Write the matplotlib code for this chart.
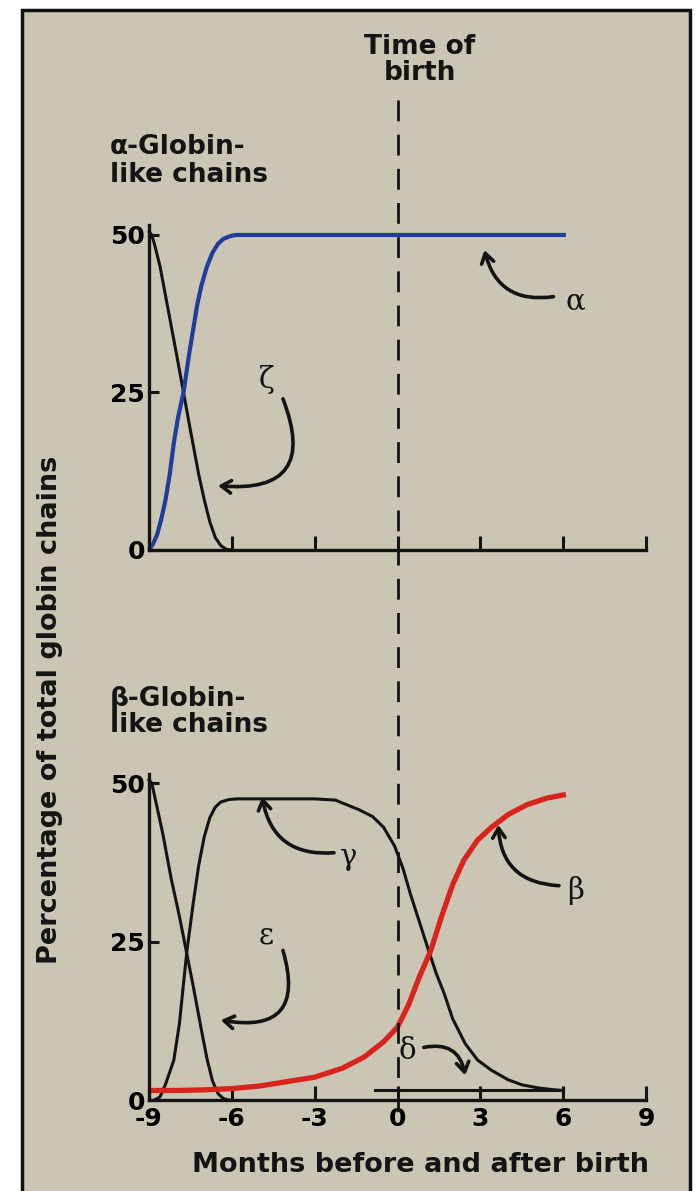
import matplotlib
matplotlib.use('Agg')
import matplotlib.pyplot as plt
from matplotlib.patches import Rectangle
from matplotlib.lines import Line2D
import matplotlib.transforms as mtransforms

# ---------------- data (months, % of total globin chains) ----------------
alpha_x = [-9, -8.85, -8.7, -8.55, -8.4, -8.25, -8.1, -7.95, -7.75, -7.55, -7.4, -7.25, -7.1, -6.9, -6.7, -6.5, -6.3, -6.0, -5.8, 0, 6.1]
alpha_y = [0, 1.0, 2.5, 5.0, 8.0, 12.0, 17.0, 21.0, 25.0, 31.0, 35.0, 39.0, 42.0, 45.0, 47.2, 48.6, 49.4, 49.9, 50, 50, 50]

zeta_x = [-9, -8.9, -8.8, -8.6, -8.3, -8.0, -7.75, -7.5, -7.2, -7.0, -6.8, -6.6, -6.4, -6.2, -6.0]
zeta_y = [50.5, 50, 48.5, 45, 38, 31, 25, 19, 12, 8, 4.5, 2.0, 0.7, 0.1, 0]

eps_x = [-9, -8.9, -8.8, -8.5, -8.2, -7.9, -7.65, -7.4, -7.1, -6.9, -6.7, -6.5, -6.3, -6.1]
eps_y = [50.5, 50, 48, 42, 35, 29, 23.5, 18, 11, 6.5, 3.0, 1.0, 0.2, 0]

gamma_x = [-8.8, -8.6, -8.4, -8.1, -7.9, -7.63, -7.4, -7.2, -7.0, -6.8, -6.6, -6.4, -6.1, -5.8, -4.5, -3.0, -2.25, -1.4, -0.9, -0.5, -0.1, 0.2, 0.46, 0.8, 1.14, 1.4, 1.69, 2.0, 2.45, 2.9, 3.4, 4.0, 4.5, 5.1, 5.7, 6.0]
gamma_y = [0, 0.5, 2.5, 6.3, 12, 23.4, 31, 37, 41.5, 44.5, 46.2, 47.0, 47.4, 47.5, 47.5, 47.5, 47.3, 45.8, 44.7, 43.0, 40.0, 36.5, 32.6, 28.0, 23.4, 20.0, 16.8, 12.8, 8.9, 6.3, 4.7, 3.2, 2.4, 1.9, 1.6, 1.5]

beta_x = [-9, -8, -7, -6, -5, -4, -3, -2, -1.2, -0.5, 0, 0.4, 0.8, 1.2, 1.6, 2.0, 2.4, 2.9, 3.4, 4.0, 4.7, 5.4, 6.1]
beta_y = [1.5, 1.5, 1.6, 1.8, 2.2, 2.9, 3.6, 5.0, 6.8, 9.2, 11.5, 15.0, 19.5, 23.5, 29.0, 34.0, 37.8, 41.0, 43.0, 45.0, 46.6, 47.6, 48.2]

delta_x = [-0.8, 6.0]
delta_y = [1.5, 1.5]

x_ticks = [-9, -6, -3, 0, 3, 6, 9]
x_ticklabels = ['-9', '-6', '-3', '0', '3', '6', '9']
y_ticks = [0, 25, 50]
y_ticklabels = ['0', '25', '50']

# ---------------- figure ----------------
W, H = 697, 1191
fig = plt.figure(figsize=(W / 100, H / 100), dpi=100)
fig.patch.set_facecolor('white')

bg = Rectangle((22 / W, -0.02), (690 - 22) / W, 1 - 10 / H + 0.02,
               transform=fig.transFigure, facecolor='#cbc5b3',
               edgecolor='#111111', lw=2.5, zorder=-5)
fig.add_artist(bg)

BLACK = '#141414'
BLUE = '#1f3d9c'
RED = '#d9231d'
SANS = 'DejaVu Sans'
SERIF = 'DejaVu Serif'

x_left = 149 / W
x_w = (646 - 149) / W


def make_ax(bottom_px, top_px):
    b = 1 - bottom_px / H
    h = (bottom_px - top_px) / H
    ax = fig.add_axes([x_left, b, x_w, h])
    ax.set_facecolor('none')
    ax.set_xlim(-9, 9)
    ax.set_ylim(0, 51.5)
    for s in ('top', 'right'):
        ax.spines[s].set_visible(False)
    for s in ('left', 'bottom'):
        ax.spines[s].set_linewidth(2.4)
        ax.spines[s].set_color(BLACK)
    ax.set_xticks(x_ticks)
    ax.set_yticks(y_ticks)
    ax.set_yticklabels(y_ticklabels, fontsize=18, fontweight='bold', family=SANS)
    ax.tick_params(axis='x', direction='in', length=10, width=2.2, color=BLACK)
    ax.tick_params(axis='y', direction='in', length=7, width=2.2, color=BLACK, pad=3)
    return ax


# top panel: 0 at py 550, 51.5 at py ~225
ax1 = make_ax(550, 225.5)
ax1.set_xticklabels([])
ax1.plot(zeta_x, zeta_y, color=BLACK, lw=2.2, clip_on=False, solid_capstyle='round')
ax1.plot(alpha_x, alpha_y, color=BLUE, lw=3.0, clip_on=False, solid_capstyle='butt')

# bottom panel: 0 at py 1100, 51.5 at py ~773.5
ax2 = make_ax(1100, 773.5)
ax2.set_xticklabels(x_ticklabels, fontsize=18, fontweight='bold', family=SANS)
ax2.tick_params(axis='x', pad=5)
ax2.plot(eps_x, eps_y, color=BLACK, lw=2.2, clip_on=False)
ax2.plot(gamma_x, gamma_y, color=BLACK, lw=2.2, clip_on=False)
ax2.plot(delta_x, delta_y, color=BLACK, lw=2.2, clip_on=False)
ax2.plot(beta_x, beta_y, color=RED, lw=3.8, clip_on=False, solid_capstyle='butt')

# ---------------- annotations ----------------
arrow_kw = dict(arrowstyle='->,head_length=0.7,head_width=0.45', color=BLACK, lw=2.6,
                shrinkA=0, shrinkB=0)


def label_arrow(ax, letter, txy, start, tip, rad):
    ax.text(txy[0], txy[1], letter, fontsize=21, family=SERIF, color=BLACK,
            ha='center', va='center')
    ax.annotate('', xy=tip, xytext=start,
                arrowprops=dict(connectionstyle='arc3,rad=%s' % rad, **arrow_kw))


label_arrow(ax1, 'α', (6.45, 39.5), (5.65, 40.2), (3.15, 47.6), -0.45)
label_arrow(ax1, 'ζ', (-4.75, 27.0), (-4.15, 24.0), (-6.5, 10.2), -0.8)
label_arrow(ax2, 'γ', (-1.75, 38.4), (-2.3, 39.0), (-4.9, 47.8), -0.45)
label_arrow(ax2, 'β', (6.45, 33.0), (5.85, 33.8), (3.65, 43.4), -0.45)
label_arrow(ax2, 'ε', (-4.75, 26.0), (-4.15, 23.6), (-6.4, 12.6), -0.8)
label_arrow(ax2, 'δ', (0.34, 7.8), (0.95, 8.3), (2.45, 3.9), -0.5)

# dashed "time of birth" line
trans = mtransforms.blended_transform_factory(ax2.transData, fig.transFigure)
fig.add_artist(Line2D([0, 0], [1 - 100 / H, 1 - 1113 / H], transform=trans,
                      color=BLACK, lw=2.0, linestyle=(0, (7.5, 4.8)), zorder=1))

# ---------------- texts ----------------
fig.text(420 / W, 1 - 60 / H, 'Time of\nbirth', ha='center', va='center',
         fontsize=19, fontweight='bold', family=SANS, linespacing=1.05, color=BLACK)
fig.text(110 / W, 1 - 161 / H, 'α-Globin-\nlike chains', ha='left', va='center',
         fontsize=19, fontweight='bold', family=SANS, linespacing=1.05, color=BLACK)
fig.text(110 / W, 1 - 712 / H, 'β-Globin-\nlike chains', ha='left', va='center',
         fontsize=19, fontweight='bold', family=SANS, linespacing=1.05, color=BLACK)
fig.text(50 / W, 1 - 710 / H, 'Percentage of total globin chains', rotation=90,
         ha='center', va='center', fontsize=19.5, fontweight='bold', family=SANS, color=BLACK)
fig.text(421 / W, 1 - 1165 / H, 'Months before and after birth', ha='center', va='center',
         fontsize=19.5, fontweight='bold', family=SANS, color=BLACK)

fig.savefig('out.png', dpi=100, facecolor=fig.get_facecolor())
